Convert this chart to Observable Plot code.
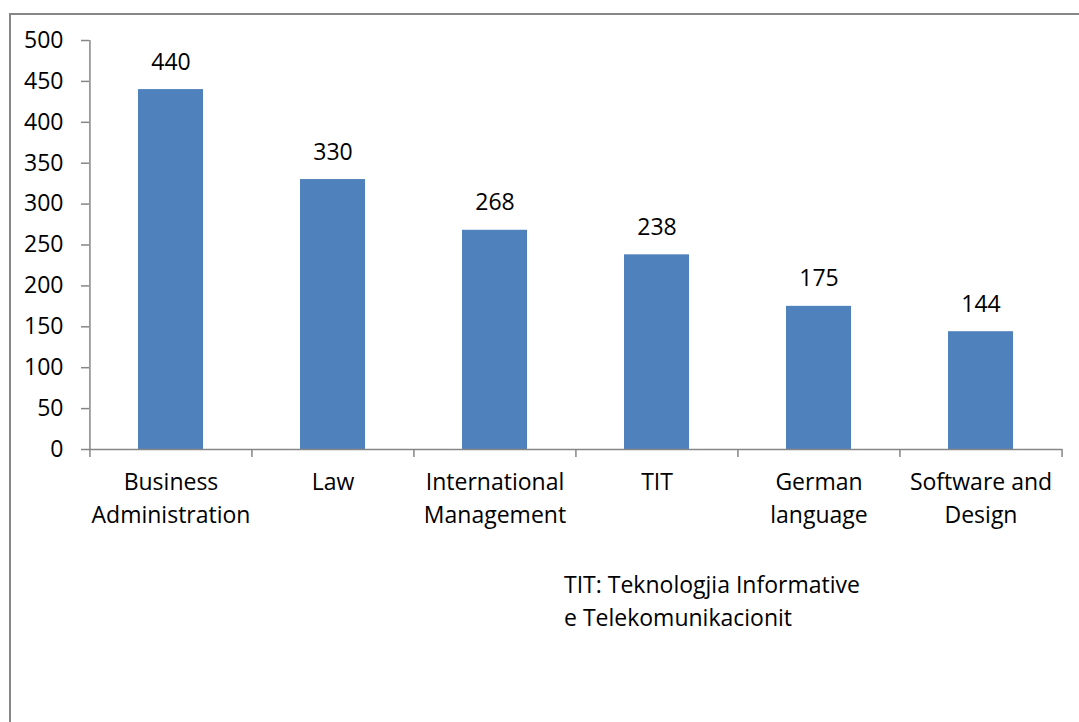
<!DOCTYPE html>
<html>
<head>
<meta charset="utf-8">
<script src="https://cdn.jsdelivr.net/npm/d3@7"></script>
<script src="https://cdn.jsdelivr.net/npm/@observablehq/plot@0.6"></script>
<style>
  html, body { margin: 0; padding: 0; background: #fff; }
  body { width: 1079px; height: 722px; position: relative; overflow: hidden; font-family: "Open Sans", sans-serif; }
  #frame { position: absolute; left: 9px; top: 13px; width: 1200px; height: 900px; border-left: 2px solid #878787; border-top: 2px solid #878787; box-sizing: border-box; }
  #chart { position: absolute; left: 0; top: 0; }
  #note { position: absolute; left: 564px; top: 568px; font-size: 23px; line-height: 33px; color: #000; font-family: "Open Sans", sans-serif; }
</style>
</head>
<body>
<div id="frame"></div>
<div id="chart"></div>
<div id="note">TIT: Teknologjia Informative<br>e Telekomunikacionit</div>
<script>
const categories = ["Business\nAdministration", "Law", "International\nManagement", "TIT", "German\nlanguage", "Software and\nDesign"];
const values = [440, 330, 268, 238, 175, 144];
const yTicks = [0, 50, 100, 150, 200, 250, 300, 350, 400, 450, 500];

const data = categories.map((c, i) => ({category: c, value: values[i]}));

const W = 1079, H = 545;
const mL = 89, mR = 17, mT = 40, mB = 96;
const half = (W - mL - mR) / categories.length / 2;
const axisColor = "#868686";
const fs = 23;

const chart = Plot.plot({
  width: W,
  height: H,
  marginLeft: mL,
  marginRight: mR,
  marginTop: mT,
  marginBottom: mB,
  style: {fontFamily: "'Open Sans', sans-serif", fontSize: fs + "px", color: "#000", background: "transparent"},
  x: {domain: categories, paddingInner: 0.6, paddingOuter: 0.3, axis: null},
  y: {domain: [0, 500], axis: null},
  marks: [
    Plot.barY(data, {x: "category", y: "value", fill: "#4F81BD"}),
    Plot.text(data, {x: "category", y: "value", text: d => String(d.value), dy: -20, lineAnchor: "bottom", fontSize: fs, fill: "#000"}),
    // y axis
    Plot.ruleX([categories[0]], {y1: 0, y2: 500, dx: -half, stroke: axisColor, strokeWidth: 1.5}),
    Plot.axisY({ticks: yTicks, tickSize: 8, tickPadding: 18, stroke: axisColor, strokeWidth: 1.5, fontSize: fs, fill: "#000", label: null, anchor: "left"}),
    // x axis line
    Plot.ruleY([0], {stroke: axisColor, strokeWidth: 1.5}),
    // category boundary ticks
    Plot.ruleX(categories, {y1: 0, y2: 0, insetBottom: -8, dx: -half, stroke: axisColor, strokeWidth: 1.5}),
    Plot.ruleX([categories[categories.length - 1]], {y1: 0, y2: 0, insetBottom: -8, dx: half, stroke: axisColor, strokeWidth: 1.5}),
    // category labels
    Plot.axisX({tickSize: 0, tickPadding: 17, fontSize: fs, fill: "#000", lineHeight: 1.43, label: null})
  ]
});
document.getElementById("chart").appendChild(chart);
</script>
</body>
</html>
